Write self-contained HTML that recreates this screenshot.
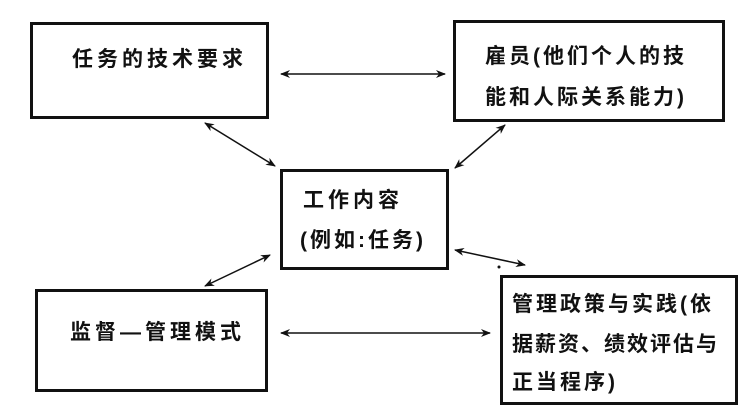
<!DOCTYPE html>
<html><head><meta charset="utf-8"><style>
body{margin:0;width:747px;height:408px;background:#fff;position:relative;overflow:hidden;font-family:"Liberation Sans","Noto Sans CJK SC",sans-serif;font-weight:bold;color:#111}
.b{position:absolute;border:3px solid #111;box-sizing:border-box}
.t{position:absolute;font-size:21px;letter-spacing:4px;white-space:nowrap;line-height:1}
svg{position:absolute;left:0;top:0}
</style></head><body>
<div class="b" style="left:30px;top:22px;width:239px;height:97px"></div>
<div class="b" style="left:453px;top:20px;width:272px;height:102px"></div>
<div class="b" style="left:280px;top:169px;width:169px;height:101px"></div>
<div class="b" style="left:35px;top:289px;width:233px;height:103px"></div>
<div class="b" style="left:500px;top:275px;width:238px;height:130px"></div>
<div class="t" style="left:72px;top:49px">任务的技术要求</div>
<div class="t" style="left:485px;top:46px;letter-spacing:3px">雇员(他们个人的技</div>
<div class="t" style="left:485px;top:87px;letter-spacing:3px">能和人际关系能力)</div>
<div class="t" style="left:303px;top:190px">工作内容</div>
<div class="t" style="left:300px;top:230px;letter-spacing:3px">(例如:任务)</div>
<div class="t" style="left:70px;top:322px">监督—管理模式</div>
<div class="t" style="left:512px;top:294px;letter-spacing:3px">管理政策与实践(依</div>
<div class="t" style="left:512px;top:334px;letter-spacing:2px">据薪资、绩效评估与</div>
<div class="t" style="left:512px;top:372px;letter-spacing:3px">正当程序)</div>
<svg width="747" height="408" viewBox="0 0 747 408">
<defs><marker id="a" markerWidth="10" markerHeight="8" refX="9" refY="4" orient="auto-start-reverse" markerUnits="userSpaceOnUse"><path d="M0,0 L10,4 L0,8 L3,4z" fill="#111"/></marker></defs>
<g stroke="#111" stroke-width="1.5" fill="none" marker-start="url(#a)" marker-end="url(#a)">
<line x1="281" y1="74" x2="445" y2="74"/>
<line x1="205" y1="123" x2="275" y2="166"/>
<line x1="505" y1="125" x2="455" y2="168"/>
<line x1="455" y1="250" x2="525" y2="265"/>
<line x1="270" y1="255" x2="205" y2="286"/>
<line x1="281" y1="333" x2="490" y2="333"/>
</g>
<circle cx="499" cy="267" r="1.5" fill="#111"/>
</svg>
</body></html>
